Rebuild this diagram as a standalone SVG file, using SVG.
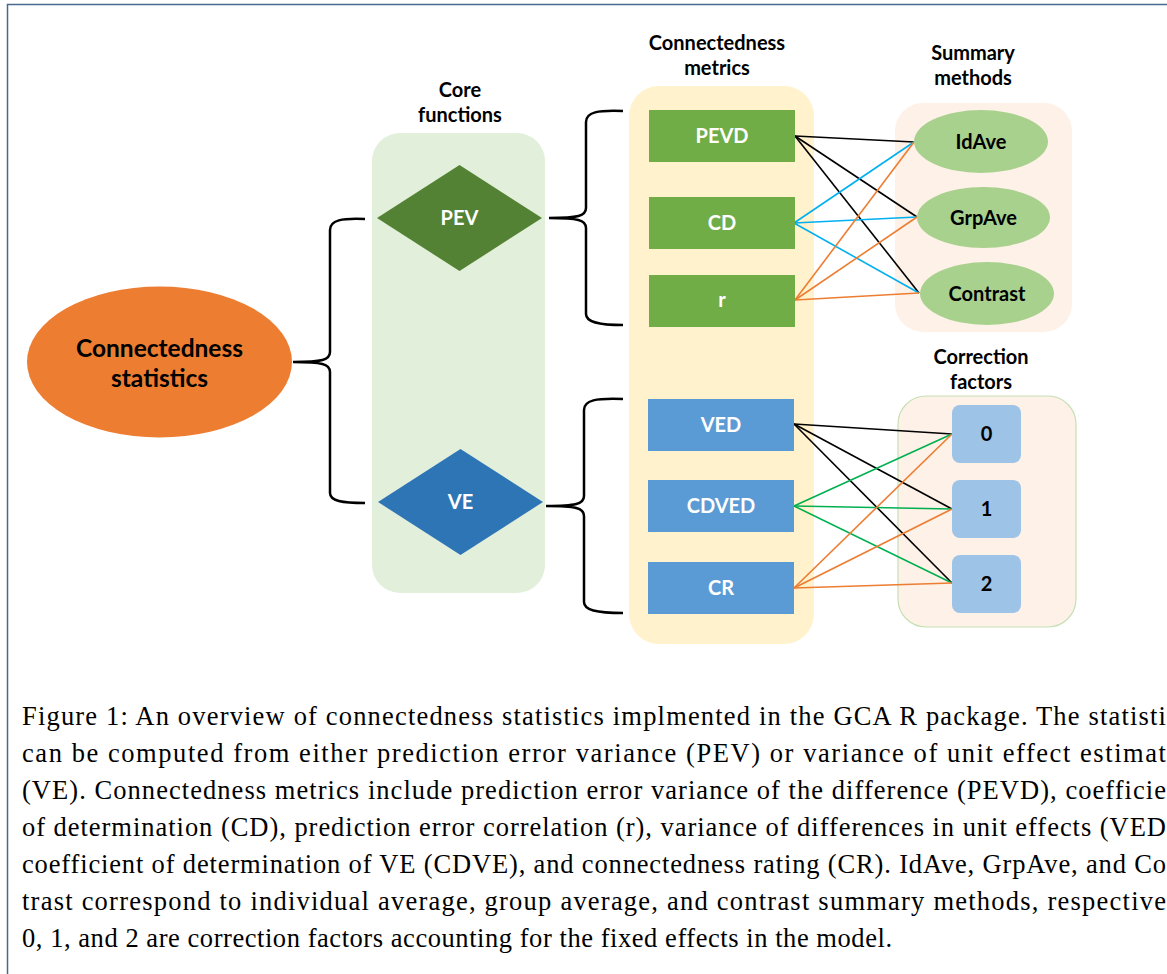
<svg xmlns="http://www.w3.org/2000/svg" width="1167" height="974" viewBox="0 0 1167 974">
<style>
.hdr{font-family:Lato,"Liberation Sans",sans-serif;font-weight:bold;font-size:20px;fill:#000;text-anchor:middle}
.lbl{font-family:Lato,"Liberation Sans",sans-serif;font-weight:bold;font-size:20px;text-anchor:middle}
.w{fill:#fff}
.k{fill:#000}
.big{font-family:Lato,"Liberation Sans",sans-serif;font-weight:bold;font-size:24.5px;fill:#000;text-anchor:middle}
.cap{font-family:"Liberation Serif","DejaVu Serif",serif;font-size:26.5px;fill:#000}
.brace{fill:none;stroke:#000;stroke-width:2.5}
.ln{fill:none;stroke-width:1.6}
.green{fill:#70AD47}
.blue{fill:#5B9BD5}
.oval{fill:#A9D18E}
.sq{fill:#9DC3E6}
</style>
<rect x="0" y="0" width="1167" height="974" fill="#fff"/>
<path d="M7.5,974 V4.5 H1167" fill="none" stroke="#4A6890" stroke-width="1.5"/>

<g id="bg-core"><rect x="372" y="133" width="173" height="460" rx="28" fill="#E2EFDA"/></g>
<g id="bg-metrics"><rect x="629" y="86" width="185" height="558" rx="30" fill="#FFF2CC"/></g>
<g id="bg-summary"><rect x="895" y="103" width="177" height="229" rx="28" fill="#FEF1E8"/></g>
<g id="bg-correction"><rect x="898" y="396" width="178" height="231" rx="28" fill="#FEF1E8" stroke="#C5E0B4" stroke-width="1.2"/></g>

<g id="headers">
<text class="hdr" x="460" y="97">Core</text>
<text class="hdr" x="460" y="122">functions</text>
<text class="hdr" x="717" y="50">Connectedness</text>
<text class="hdr" x="717" y="75">metrics</text>
<text class="hdr" x="973" y="60">Summary</text>
<text class="hdr" x="973" y="85">methods</text>
<text class="hdr" x="981" y="364">Correction</text>
<text class="hdr" x="981" y="389">factors</text>
</g>

<g id="connectors">
<path class="brace" d="M365,219 C342,218 330,220 330,230 L330,352 C330,360 322,362 293,362 C322,362 330,364 330,372 L330,493 C330,501 342,503 365,503"/>
<path class="brace" d="M623,111 C598,110 586,112 586,122 L586,208 C586,216 578,218 549,218 C578,218 586,220 586,228 L586,314 C586,322 598,325 623,325"/>
<path class="brace" d="M623,399 C596,398 584,400 584,410 L584,496 C584,504 576,506 546,506 C576,506 584,508 584,516 L584,602 C584,610 596,613 623,613"/>
<g stroke="#000" class="ln">
<line x1="795" y1="136" x2="914" y2="142"/>
<line x1="795" y1="136" x2="917" y2="217"/>
<line x1="795" y1="136" x2="919" y2="293"/>
</g>
<g stroke="#00B0F0" class="ln">
<line x1="794" y1="223" x2="914" y2="142"/>
<line x1="794" y1="223" x2="917" y2="217"/>
<line x1="794" y1="223" x2="919" y2="293"/>
</g>
<g stroke="#ED7D31" class="ln">
<line x1="795" y1="300" x2="914" y2="142"/>
<line x1="795" y1="300" x2="917" y2="217"/>
<line x1="795" y1="300" x2="919" y2="293"/>
</g>
<g stroke="#000" class="ln">
<line x1="794" y1="424" x2="952" y2="434"/>
<line x1="794" y1="424" x2="952" y2="509"/>
<line x1="794" y1="424" x2="952" y2="583"/>
</g>
<g stroke="#00B050" class="ln">
<line x1="794" y1="506" x2="952" y2="434"/>
<line x1="794" y1="506" x2="952" y2="509"/>
<line x1="794" y1="506" x2="952" y2="583"/>
</g>
<g stroke="#ED7D31" class="ln">
<line x1="794" y1="588" x2="952" y2="434"/>
<line x1="794" y1="588" x2="952" y2="509"/>
<line x1="794" y1="588" x2="952" y2="583"/>
</g>
</g>

<g id="connectedness-statistics">
<ellipse cx="159.5" cy="362" rx="132.5" ry="75.5" fill="#ED7D31"/>
<text class="big" x="159.5" y="357">Connectedness</text>
<text class="big" x="159.5" y="387">statistics</text>
</g>

<g id="pev"><polygon points="377,218 459.5,165 542,218 459.5,271" fill="#548235"/><text class="lbl w" x="459.5" y="225">PEV</text></g>
<g id="ve"><polygon points="378,502 460.5,449 543,502 460.5,555" fill="#2E75B6"/><text class="lbl w" x="460.5" y="509">VE</text></g>

<g id="pevd"><rect class="green" x="649" y="110" width="146" height="52"/><text class="lbl w" x="722" y="143">PEVD</text></g>
<g id="cd"><rect class="green" x="649" y="197" width="146" height="52"/><text class="lbl w" x="722" y="230">CD</text></g>
<g id="r"><rect class="green" x="649" y="275" width="146" height="52"/><text class="lbl w" x="722" y="307">r</text></g>
<g id="ved"><rect class="blue" x="648" y="399" width="146" height="52"/><text class="lbl w" x="721" y="432">VED</text></g>
<g id="cdved"><rect class="blue" x="648" y="480" width="146" height="52"/><text class="lbl w" x="721" y="513">CDVED</text></g>
<g id="cr"><rect class="blue" x="648" y="562" width="146" height="52"/><text class="lbl w" x="721" y="595">CR</text></g>

<g id="idave"><ellipse class="oval" cx="981" cy="141.5" rx="67" ry="31.5"/><text class="lbl k" x="981" y="148.5">IdAve</text></g>
<g id="grpave"><ellipse class="oval" cx="983.5" cy="217.5" rx="66.5" ry="30.5"/><text class="lbl k" x="983.5" y="224.5">GrpAve</text></g>
<g id="contrast"><ellipse class="oval" cx="987" cy="293.5" rx="67" ry="31.5"/><text class="lbl k" x="987" y="300.5">Contrast</text></g>

<g id="cf0"><rect class="sq" x="952" y="405" width="69" height="58" rx="8"/><text class="lbl k" x="986.5" y="441">0</text></g>
<g id="cf1"><rect class="sq" x="952" y="480" width="69" height="58" rx="8"/><text class="lbl k" x="986.5" y="516">1</text></g>
<g id="cf2"><rect class="sq" x="952" y="555" width="69" height="58" rx="8"/><text class="lbl k" x="986.5" y="591">2</text></g>

<g id="caption">
<text class="cap" x="22" y="725" textLength="1144" lengthAdjust="spacing">Figure 1: An overview of connectedness statistics implmented in the GCA R package. The statisti</text>
<text class="cap" x="22" y="762" textLength="1144" lengthAdjust="spacing">can be computed from either prediction error variance (PEV) or variance of unit effect estimat</text>
<text class="cap" x="22" y="799" textLength="1144" lengthAdjust="spacing">(VE). Connectedness metrics include prediction error variance of the difference (PEVD), coefficie</text>
<text class="cap" x="22" y="836" textLength="1144" lengthAdjust="spacing">of determination (CD), prediction error correlation (r), variance of differences in unit effects (VED</text>
<text class="cap" x="22" y="873" textLength="1144" lengthAdjust="spacing">coefficient of determination of VE (CDVE), and connectedness rating (CR). IdAve, GrpAve, and Co</text>
<text class="cap" x="22" y="910" textLength="1144" lengthAdjust="spacing">trast correspond to individual average, group average, and contrast summary methods, respective</text>
<text class="cap" x="22" y="947" textLength="870" lengthAdjust="spacing">0, 1, and 2 are correction factors accounting for the fixed effects in the model.</text>
</g>
</svg>
